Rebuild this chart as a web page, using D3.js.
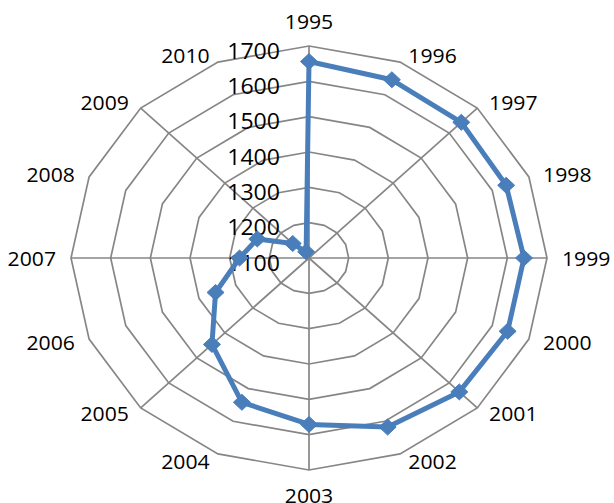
<!DOCTYPE html>
<html>
<head>
<meta charset="utf-8">
<script src="https://cdn.jsdelivr.net/npm/d3@7"></script>
<style>
  html, body { margin: 0; padding: 0; background: #fff; }
  svg { display: block; }
  text { font-family: "Open Sans", Lato, sans-serif; fill: #000; }
</style>
</head>
<body>
<svg id="chart" width="614" height="503"></svg>
<script>
const categories = ["1995","1996","1997","1998","1999","2000","2001","2002","2003","2004","2005","2006","2007","2008","2009","2010"];
const values = [1656, 1646, 1643, 1638, 1642, 1642, 1636, 1618, 1571, 1542, 1446, 1355, 1275, 1241, 1158, 1119];
const tickValues = [1100, 1200, 1300, 1400, 1500, 1600, 1700];
const spokeCategories = ["1995","1997","1999","2001","2003","2005","2007","2009"];

const W = 614, H = 503;
const cx = 309, cy = 258, rx = 238, ry = 212;
const svg = d3.select("#chart");
svg.append("rect").attr("width", W).attr("height", H).attr("fill", "#fff");

const r = d3.scaleLinear().domain([1100, 1700]).range([0, 1]);
const px = d3.scaleLinear().domain([-1, 1]).range([cx - rx, cx + rx]);
const py = d3.scaleLinear().domain([-1, 1]).range([cy + ry, cy - ry]);
const ang = d3.scaleLinear().domain([0, categories.length]).range([0, 2 * Math.PI]);

function pt(i, v) {
  const a = ang(i), rr = r(v);
  return [px(rr * Math.sin(a)), py(rr * Math.cos(a))];
}

const grid = svg.append("g").attr("fill", "none").attr("stroke", "#868686").attr("stroke-width", 1.7);
// rings
tickValues.filter(t => t > 1100).forEach(t => {
  const pts = categories.map((c, i) => pt(i, t));
  grid.append("path").attr("d", d3.line().curve(d3.curveLinearClosed)(pts));
});
// spokes
spokeCategories.forEach(c => {
  const i = categories.indexOf(c);
  const p0 = pt(i, 1100), p1 = pt(i, 1700);
  grid.append("line").attr("x1", p0[0]).attr("y1", p0[1]).attr("x2", p1[0]).attr("y2", p1[1]);
});

// category labels
const labG = svg.append("g");
categories.forEach((c, i) => {
  const a = ang(i), s = Math.sin(a), co = Math.cos(a);
  const v = pt(i, 1700);
  let x, y, anchor;
  if (Math.abs(s) < 0.1) {
    anchor = "middle"; x = v[0]; y = v[1] - co * 25;
  } else {
    anchor = s > 0 ? "start" : "end";
    x = v[0] + Math.sign(s) * (4 + 11 * Math.abs(s));
    y = v[1] - co * 8;
  }
  labG.append("text")
    .attr("transform", `translate(${x},${y}) scale(1.06,1)`)
    .attr("text-anchor", anchor)
    .attr("dominant-baseline", "central")
    .attr("font-size", 20)
    .text(c);
});

// value axis labels
const valG = svg.append("g");
tickValues.forEach(t => {
  const y = py(r(t)) + 4;
  valG.append("text")
    .attr("transform", `translate(${cx - 29},${y}) scale(1.1,1)`)
    .attr("text-anchor", "end")
    .attr("dominant-baseline", "central")
    .attr("font-size", 21)
    .text(t);
});

// series
const pts = values.map((v, i) => pt(i, v));
svg.append("path")
  .attr("d", d3.line().curve(d3.curveLinearClosed)(pts))
  .attr("fill", "none")
  .attr("stroke", "#4A7EBB")
  .attr("stroke-width", 5)
  .attr("stroke-linejoin", "round");

svg.append("g").selectAll("path.m").data(pts).join("path")
  .attr("class", "m")
  .attr("d", d => `M${d[0]},${d[1]-8} L${d[0]+8.5},${d[1]} L${d[0]},${d[1]+8} L${d[0]-8.5},${d[1]} Z`)
  .attr("fill", "#4A7EBB")
  .attr("stroke", "#4A7EBB")
  .attr("stroke-width", 1);
</script>
</body>
</html>
